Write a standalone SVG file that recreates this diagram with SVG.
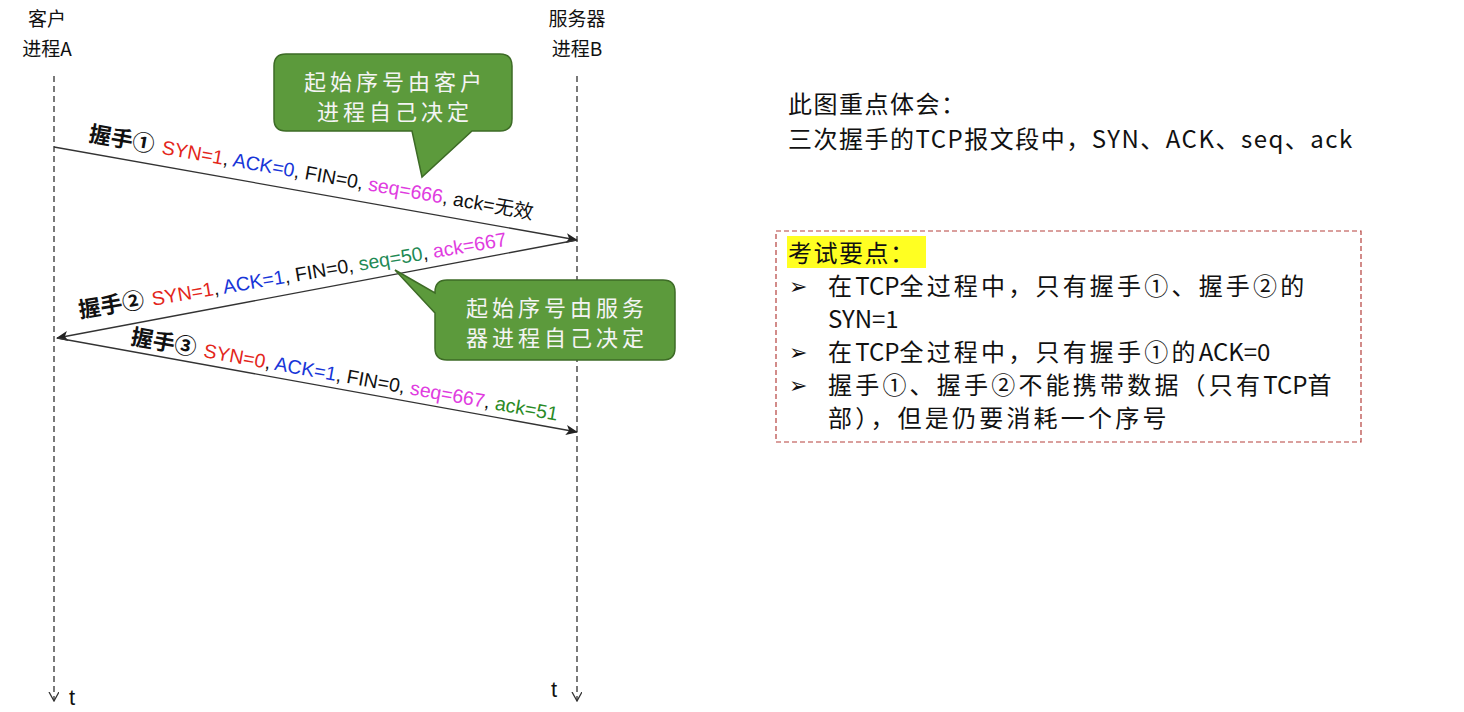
<svg xmlns="http://www.w3.org/2000/svg" width="1464" height="712" viewBox="0 0 1464 712">
<style>
.t{font-family:"Liberation Sans","Noto Sans CJK SC",sans-serif;fill:#111}
.cjk{font-family:"Noto Sans CJK SC","Liberation Sans",sans-serif}
.hdr{font-size:19px}
.life{stroke:#333;stroke-width:1.3;stroke-dasharray:6 4;fill:none}
.msg{stroke:#333;stroke-width:1.3;fill:none}
.hs{font-weight:bold;font-size:22px}
.fl{font-size:19.5px}
.red{fill:#e3261b}.blue{fill:#1836d8}.mag{fill:#e03ce0}.grn{fill:#1f8a55}.grn2{fill:#2a8a25}
.bub{fill:#5c9a3c;stroke:#3d6b26;stroke-width:1.5}
.bt{font-family:"Noto Sans CJK SC",sans-serif;font-size:22px;fill:#f4f4f4;letter-spacing:4px;text-anchor:middle}
.rt{font-family:"Noto Sans CJK SC","Liberation Sans",sans-serif;font-size:24px;fill:#111;letter-spacing:1.5px}
.bl{letter-spacing:3.2px}
.l0{letter-spacing:0}
.bul{font-family:"DejaVu Sans",sans-serif;font-size:22px;fill:#111;font-weight:bold}
</style>
<defs>
<marker id="ah" markerWidth="12" markerHeight="10" refX="11" refY="5" orient="auto" markerUnits="userSpaceOnUse">
<path d="M0,0 L12,5 L0,10 L3,5 Z" fill="#222"/>
</marker>
<marker id="va" markerWidth="10" markerHeight="12" refX="9" refY="5" orient="auto" markerUnits="userSpaceOnUse">
<path d="M0,0 L9,5 L0,10" fill="none" stroke="#333" stroke-width="1.3"/>
</marker>
</defs>

<g id="clientA">
<text class="t cjk hdr" x="47" y="26" text-anchor="middle">客户</text>
<text class="t cjk hdr" x="47" y="56" text-anchor="middle">进程A</text>
<line class="life" x1="54" y1="76" x2="54" y2="701" marker-end="url(#va)"/>
<text class="t" x="69" y="705" font-size="22">t</text>
</g>

<g id="serverB">
<text class="t cjk hdr" x="577" y="26" text-anchor="middle">服务器</text>
<text class="t cjk hdr" x="577" y="56" text-anchor="middle">进程B</text>
<line class="life" x1="577" y1="76" x2="577" y2="701" marker-end="url(#va)"/>
<text class="t" x="551" y="697" font-size="22">t</text>
</g>

<g id="connectors">
<line class="msg" x1="54" y1="147" x2="577" y2="240" marker-end="url(#ah)"/>
<line class="msg" x1="577" y1="240" x2="57" y2="338" marker-end="url(#ah)"/>
<line class="msg" x1="57" y1="338" x2="577" y2="432" marker-end="url(#ah)"/>
</g>

<g id="label1">
<text class="t" transform="translate(88,141) rotate(10)"><tspan class="cjk hs">握手①</tspan><tspan class="fl red" dx="8">SYN=1</tspan><tspan class="fl">, </tspan><tspan class="fl blue">ACK=0</tspan><tspan class="fl">, FIN=0, </tspan><tspan class="fl mag">seq=666</tspan><tspan class="fl">, ack=无效</tspan></text>
</g>

<g id="label2">
<text class="t" transform="translate(80,318) rotate(-9.6)"><tspan class="cjk hs">握手②</tspan><tspan class="fl red" dx="8">SYN=1</tspan><tspan class="fl">, </tspan><tspan class="fl blue">ACK=1</tspan><tspan class="fl">, FIN=0, </tspan><tspan class="fl grn">seq=50</tspan><tspan class="fl">, </tspan><tspan class="fl mag">ack=667</tspan></text>
</g>

<g id="label3">
<text class="t" transform="translate(130,344) rotate(10.2)"><tspan class="cjk hs">握手③</tspan><tspan class="fl red" dx="8">SYN=0</tspan><tspan class="fl">, </tspan><tspan class="fl blue">ACK=1</tspan><tspan class="fl">, FIN=0, </tspan><tspan class="fl mag">seq=667</tspan><tspan class="fl">, </tspan><tspan class="fl grn2">ack=51</tspan></text>
</g>

<g id="callout1">
<path class="bub" d="M286,54 H500 Q512,54 512,66 V119 Q512,131 500,131 H472 L422,177 L412,131 H286 Q274,131 274,119 V66 Q274,54 286,54 Z"/>
<text class="bt" x="395" y="90">起始序号由客户</text>
<text class="bt" x="395" y="120">进程自己决定</text>
</g>

<g id="callout2">
<path class="bub" d="M447,280 H663 Q675,280 675,292 V348 Q675,360 663,360 H447 Q435,360 435,348 V313 L395,270 L435,293 V292 Q435,280 447,280 Z"/>
<text class="bt" x="557" y="316">起始序号由服务</text>
<text class="bt" x="557" y="346">器进程自己决定</text>
</g>

<g id="note">
<text class="rt" x="788" y="113">此图重点体会：</text>
<text class="rt" x="788" y="148">三次握手的TCP报文段中，SYN、ACK、seq、ack</text>
</g>

<g id="exam">
<rect x="776" y="231" width="585" height="211" fill="none" stroke="#b5403c" stroke-width="1.2" stroke-dasharray="5 3"/>
<rect x="787" y="236" width="139" height="32" fill="#ffff22"/>
<text class="rt" x="788" y="262">考试要点：</text>
<text class="bul" x="789" y="294">➢</text>
<text class="rt bl" x="828" y="295">在<tspan class="l0">TCP</tspan>全过程中，只有握手①、握手②的</text>
<text class="rt l0" x="828" y="328">SYN=1</text>
<text class="bul" x="789" y="360">➢</text>
<text class="rt bl" x="828" y="361">在<tspan class="l0">TCP</tspan>全过程中，只有握手①的<tspan class="l0">ACK=0</tspan></text>
<text class="bul" x="789" y="393">➢</text>
<text class="rt bl" x="828" y="394">握手①、握手②不能携带数据（只有<tspan class="l0">TCP</tspan>首</text>
<text class="rt bl" x="828" y="427">部），但是仍要消耗一个序号</text>
</g>
</svg>
